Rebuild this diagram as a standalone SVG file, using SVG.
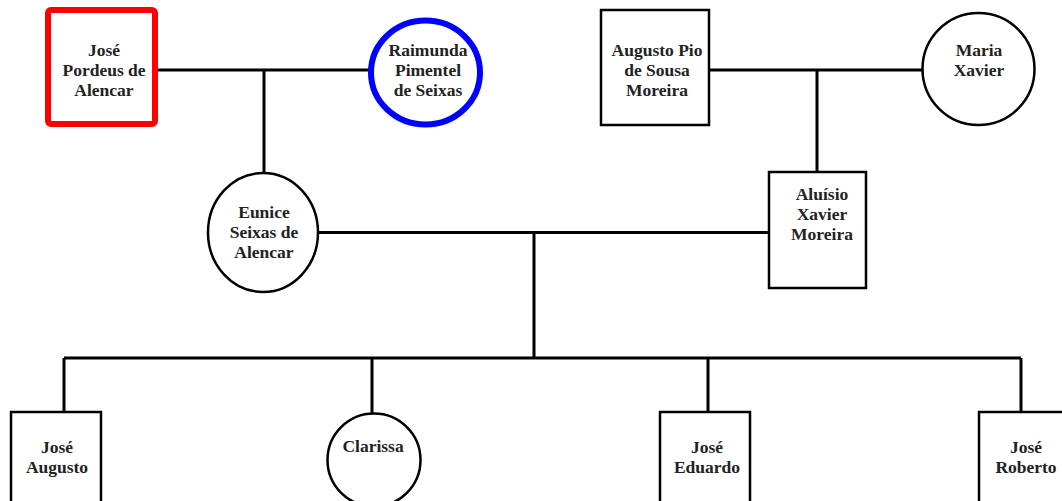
<svg xmlns="http://www.w3.org/2000/svg" width="1062" height="501" viewBox="0 0 1062 501">
<style>
.n{fill:#fff;stroke:#000;stroke-width:2.5}
.c{fill:none;stroke:#000;stroke-width:3}
text{font-family:"Liberation Serif","Times New Roman",serif;font-weight:bold;font-size:17.5px;fill:#222;text-anchor:middle}
</style>
<rect width="1062" height="501" fill="#fff"/>
<g id="connectors">
<path class="c" d="M155 70H372M264 70V173"/>
<path class="c" d="M709 70H923M817 70V172"/>
<path class="c" d="M318 232.5H768M534 232.5V358"/>
<path class="c" d="M64 358H1021M64 358V412M372 358V413M708 358V412M1021 358V412"/>
</g>
<g id="jose-pordeus">
<rect x="48" y="10" width="107" height="114" rx="3" fill="#fff" stroke="#f00" stroke-width="6"/>
<text x="104" y="56">José</text><text x="104" y="76">Pordeus de</text><text x="104" y="96">Alencar</text>
</g>
<g id="raimunda">
<ellipse cx="425.5" cy="72.5" rx="54.5" ry="52" fill="#fff" stroke="#00f" stroke-width="6"/>
<text x="428" y="56">Raimunda</text><text x="428" y="76">Pimentel</text><text x="428" y="96">de Seixas</text>
</g>
<g id="augusto-pio">
<rect class="n" x="601" y="10" width="108" height="115"/>
<text x="657" y="56">Augusto Pio</text><text x="657" y="76">de Sousa</text><text x="657" y="96">Moreira</text>
</g>
<g id="maria">
<circle class="n" cx="978.5" cy="69" r="56"/>
<text x="979" y="56">Maria</text><text x="979" y="76">Xavier</text>
</g>
<g id="eunice">
<ellipse class="n" cx="263" cy="232.5" rx="55" ry="59.5"/>
<text x="264" y="218">Eunice</text><text x="264" y="238">Seixas de</text><text x="264" y="258">Alencar</text>
</g>
<g id="aluisio">
<rect class="n" x="769" y="172" width="97" height="116"/>
<text x="822" y="200">Aluísio</text><text x="822" y="220">Xavier</text><text x="822" y="240">Moreira</text>
</g>
<g id="jose-augusto">
<rect class="n" x="11" y="412" width="90" height="110"/>
<text x="57" y="453">José</text><text x="57" y="473">Augusto</text>
</g>
<g id="clarissa">
<circle class="n" cx="374" cy="460" r="46.5"/>
<text x="373" y="452">Clarissa</text>
</g>
<g id="jose-eduardo">
<rect class="n" x="660" y="412" width="90" height="110"/>
<text x="707" y="453">José</text><text x="707" y="473">Eduardo</text>
</g>
<g id="jose-roberto">
<rect class="n" x="979" y="412" width="90" height="110"/>
<text x="1026" y="453">José</text><text x="1026" y="473">Roberto</text>
</g>
</svg>
